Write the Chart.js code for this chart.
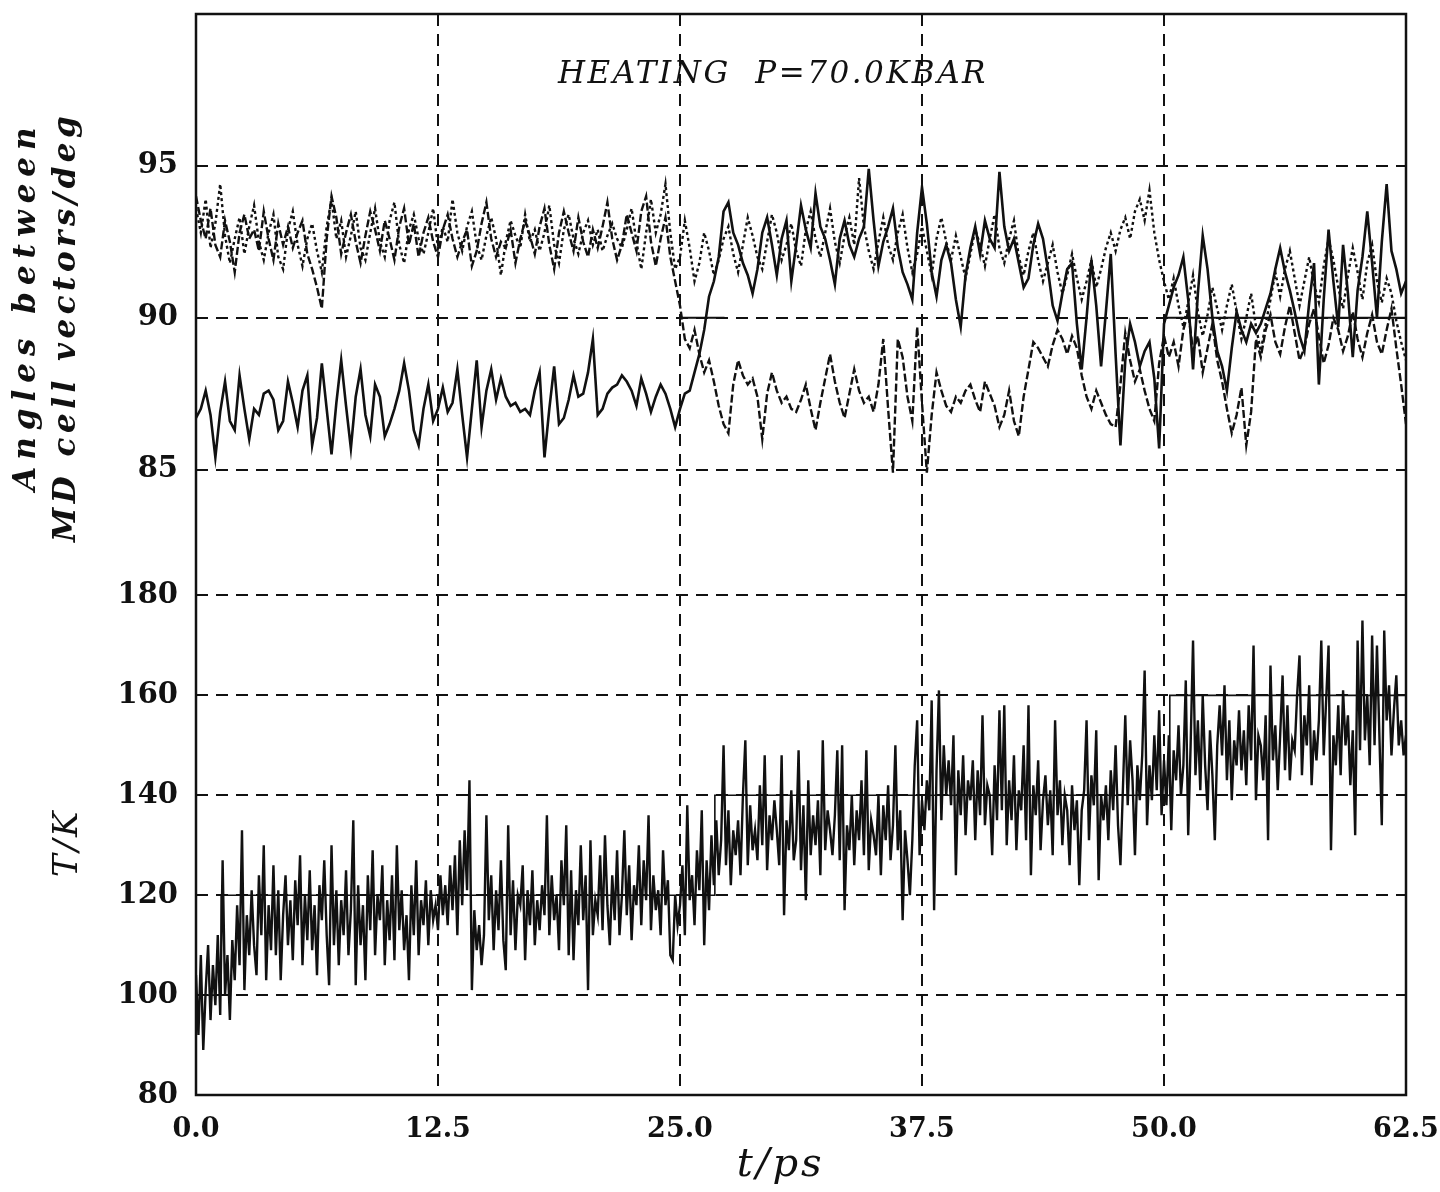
<!DOCTYPE html>
<html>
<head>
<meta charset="utf-8">
<title>Heating P=70.0 kbar</title>
<script src="https://cdn.jsdelivr.net/npm/chart.js@4.4.1/dist/chart.umd.min.js"></script>
<style>
  html, body { margin: 0; padding: 0; background: #fff; }
</style>
</head>
<body>
<canvas id="chart" width="1440" height="1192"></canvas>
<script>
const DT_ANGLE = 0.25;
const DT_TEMP = 0.125;

const timeTicks = [0, 12.5, 25, 37.5, 50, 62.5];
const angleTicks = [85, 90, 95];
const tempTicks = [80, 100, 120, 140, 160, 180];

// cell angle traces, deg, one value every 0.25 ps
const angleSolid = [
  86.7, 87.0, 87.6, 86.8, 85.4, 86.9, 87.9, 86.6,
  86.3, 88.1, 87.0, 86.0, 87.0, 86.8, 87.5, 87.6,
  87.3, 86.3, 86.6, 87.9, 87.2, 86.4, 87.6, 88.1,
  85.8, 86.7, 88.5, 87.0, 85.5, 87.2, 88.6, 87.1,
  85.7, 87.4, 88.3, 86.8, 86.1, 87.8, 87.4, 86.1,
  86.5, 87.0, 87.6, 88.5, 87.6, 86.3, 85.8, 87.0,
  87.8, 86.6, 87.0, 87.7, 86.9, 87.2, 88.3, 86.8,
  85.4, 87.0, 88.6, 86.4, 87.6, 88.3, 87.3, 88.0,
  87.4, 87.1, 87.2, 86.9, 87.0, 86.8, 87.6, 88.2,
  85.4, 87.0, 88.4, 86.5, 86.7, 87.3, 88.1, 87.4,
  87.5, 88.2, 89.3, 86.8, 87.0, 87.5, 87.7, 87.8,
  88.1, 87.9, 87.6, 87.1, 88.0, 87.5, 86.9, 87.4,
  87.8, 87.5, 87.0, 86.4, 87.0, 87.5, 87.6, 88.2,
  88.8, 89.6, 90.7, 91.2, 92.0, 93.5, 93.8, 92.8,
  92.4, 91.8, 91.4, 90.8, 91.6, 92.8, 93.3, 92.4,
  91.4, 92.6, 93.2, 91.2, 92.4, 93.7, 92.9, 92.3,
  94.1, 93.0, 92.6, 91.9, 91.1, 92.6, 93.2, 92.4,
  92.0, 92.6, 93.0, 94.9, 93.2, 91.7, 92.5, 93.0,
  93.6, 92.3, 91.5, 91.1, 90.6, 92.8, 94.3, 93.1,
  91.5, 90.7, 91.9, 92.4, 91.8, 90.6, 89.7, 91.4,
  92.3, 93.0, 92.1, 93.2, 92.6, 92.3, 94.8, 93.0,
  92.2, 92.6, 91.8, 91.0, 91.3, 92.4, 93.1, 92.6,
  91.6, 90.4, 89.9, 90.8, 91.6, 91.8, 89.8, 88.3,
  90.0, 91.9, 90.4, 88.4, 90.2, 92.1, 88.8, 85.8,
  88.6, 89.8, 89.2, 88.4, 88.9, 89.2, 88.0, 85.7,
  89.8, 90.4, 91.0, 91.4, 92.0, 90.6, 88.3, 90.8,
  92.7, 91.6, 90.0, 88.9, 88.4, 87.6, 89.0, 90.2,
  89.6, 89.2, 89.8, 89.5, 89.8, 90.3, 90.8, 91.6,
  92.3, 91.5, 90.9, 90.2, 89.4, 88.9, 90.5, 91.8,
  87.8, 90.6, 92.9, 91.2, 89.7, 92.4, 90.8, 88.7,
  90.9, 92.0, 93.5, 91.8, 90.0, 92.5, 94.4, 92.2,
  91.6, 90.8, 91.2
];
const angleDashed = [
  94.0, 93.2, 92.6, 93.6, 92.4, 92.0, 93.2, 92.5,
  91.5, 92.8, 93.4, 92.6, 92.9, 92.2, 93.5, 92.6,
  91.9, 93.1, 92.4, 93.0, 92.3, 92.8, 93.2, 92.1,
  91.6, 91.0, 90.3, 92.6, 94.0, 93.3, 92.1, 92.8,
  93.4, 92.5, 91.8, 92.7, 93.5, 92.9, 92.2, 93.2,
  92.6, 91.9, 93.0, 93.6, 92.4, 93.1, 92.0, 92.8,
  93.3, 92.5, 92.0, 92.9, 93.4, 92.6, 92.0, 92.5,
  92.9, 91.7, 92.2, 93.1, 93.8, 92.6, 92.0, 92.5,
  92.3, 92.9, 91.8, 92.6, 93.2, 92.7, 92.1, 93.0,
  93.6, 92.4, 91.6, 92.8, 93.5, 92.8, 92.2, 93.3,
  92.5, 92.0, 92.9, 92.3, 93.0, 93.8, 92.6, 91.9,
  92.4, 93.4, 92.8, 92.2, 93.5, 94.0, 92.5, 91.7,
  92.6, 93.3, 92.0, 91.2, 90.4, 89.3, 89.0, 89.6,
  88.8, 88.2, 88.6, 87.9, 87.1, 86.5, 86.2, 87.8,
  88.6, 88.1, 87.8, 88.0, 87.4, 86.0, 87.5, 88.2,
  87.6, 87.2, 87.4, 87.0, 86.9, 87.3, 87.8, 87.0,
  86.3, 87.2, 88.0, 88.8, 87.9, 87.2, 86.7, 87.5,
  88.3, 87.6, 87.2, 87.4, 86.9, 87.8, 89.3, 87.0,
  84.9, 89.3, 88.7, 87.4, 86.6, 89.7, 87.2, 84.9,
  86.8, 88.2, 87.6, 87.1, 86.9, 87.4, 87.2, 87.6,
  87.8, 87.3, 86.9, 87.9, 87.5, 87.1, 86.4, 86.8,
  87.6, 86.6, 86.1, 87.4, 88.3, 89.2, 89.0, 88.7,
  88.4, 89.1, 89.6, 89.3, 88.8, 89.4, 89.0, 88.1,
  87.4, 87.0, 87.6, 87.2, 86.8, 86.5, 86.4, 87.8,
  89.5, 88.6, 87.9, 88.3, 87.6, 87.0, 86.6, 88.5,
  89.4, 88.7, 89.2, 88.4, 89.6, 90.2, 88.9, 89.4,
  88.2, 89.0, 89.8, 88.6, 87.9, 87.0, 86.2, 86.8,
  87.7, 85.8, 86.9, 89.3, 88.7, 89.6, 90.1, 89.2,
  88.8, 89.7, 90.4, 89.5, 88.6, 89.0, 89.8, 90.3,
  89.4, 88.5, 89.1, 90.0, 89.6, 88.9, 89.4, 90.2,
  89.3, 88.7, 89.5, 90.1, 89.2, 88.8, 89.6, 90.3,
  89.0, 87.8, 86.5
];
const angleDotted = [
  93.6, 92.8, 93.9, 92.3, 93.1, 94.4, 92.7, 91.8,
  92.6, 93.3, 92.1, 93.0, 93.7, 92.5, 91.9, 92.8,
  93.4, 92.0, 91.6, 92.9, 93.5, 92.4, 91.7, 92.6,
  93.1, 92.2, 91.5, 93.0, 93.9, 92.6, 93.2, 92.0,
  92.7, 93.5, 92.3, 91.9, 92.8, 93.6, 92.5, 92.0,
  93.2, 93.8, 92.4, 91.8, 92.9, 93.4, 92.6, 92.1,
  92.8, 93.6, 92.3, 93.0, 92.5, 93.9, 92.8, 92.2,
  93.0, 93.5, 92.4, 91.9, 92.7, 93.3, 92.6, 91.4,
  92.5, 93.2, 92.7, 92.3, 93.4, 92.5, 92.9, 92.2,
  92.8, 93.7, 92.4, 91.8, 92.9, 93.4, 92.6, 92.1,
  92.8, 93.2, 92.4, 92.9, 92.2, 92.7, 93.1, 92.6,
  92.3, 92.9, 93.6, 92.5, 91.6, 92.8, 93.9, 92.8,
  93.4, 94.4, 92.8, 91.6, 92.0, 93.2, 92.3, 91.2,
  91.8, 92.8, 92.2, 91.4, 91.9, 92.6, 93.0, 92.1,
  91.5, 92.4, 93.3, 92.7, 92.0, 91.6, 92.5, 93.4,
  92.8, 91.9, 92.4, 93.1, 92.2, 91.7, 92.9, 93.5,
  92.6, 92.0, 92.8, 93.6, 92.5, 91.8, 92.7, 93.3,
  92.4, 94.6, 93.0, 92.2, 91.6, 92.5, 93.3, 92.4,
  91.9, 92.8, 93.4, 92.3, 91.5, 92.1, 93.0, 92.2,
  91.4, 92.6, 93.3, 92.5, 91.9, 92.7, 92.0, 91.3,
  92.1, 92.9, 92.4, 91.7, 92.6, 93.4, 92.3, 91.8,
  92.6, 93.2, 92.0, 91.4, 92.2, 92.8, 91.9, 91.2,
  91.8, 92.4, 91.5, 90.8, 91.4, 92.1, 91.3, 90.6,
  91.2, 91.9, 91.0, 91.6, 92.3, 92.8, 92.2, 92.9,
  93.3, 92.6, 93.5, 93.9, 93.2, 94.2, 92.8, 91.9,
  91.2, 90.6, 91.3, 90.4, 89.7, 90.5, 91.4, 90.2,
  89.4, 90.1, 91.0, 90.3, 89.6, 90.4, 91.1, 90.2,
  89.3, 90.0, 90.8, 89.7, 88.9, 89.8, 90.6, 91.5,
  90.7, 91.6, 92.2, 91.3, 90.4, 91.2, 92.0, 91.1,
  90.5, 91.7, 92.6, 91.9, 91.0, 90.3, 91.4, 92.3,
  91.5, 90.6, 91.8, 92.4, 91.2, 90.5, 91.3, 90.8,
  89.9, 89.2, 88.6
];

// temperature, K, one value every 0.125 ps (one row per ps)
const temperature = [
  104, 92, 108, 89, 101, 110, 95, 106,
  98, 112, 96, 127, 100, 108, 95, 111,
  103, 118, 106, 133, 101, 116, 108, 121,
  110, 104, 124, 112, 130, 103, 118, 109,
  126, 108, 121, 103, 116, 124, 110, 119,
  107, 123, 114, 128, 106, 120, 111, 125,
  109, 118, 104, 122, 115, 127, 112, 102,
  130, 110, 121, 106, 119, 112, 125, 108,
  117, 135, 102, 122, 110, 118, 103, 124,
  113, 129, 108, 120, 115, 126, 106, 119,
  111, 124, 107, 130, 113, 121, 109, 116,
  103, 122, 112, 127, 108, 119, 114, 123,
  110, 121, 115, 118, 113, 124, 116, 122,
  114, 126, 117, 128, 112, 131, 118, 133,
  121, 143, 101, 117, 109, 114, 106, 112,
  136, 115, 124, 109, 121, 113, 127, 111,
  105, 134, 112, 123, 109, 120, 118, 126,
  107, 121, 114, 125, 110, 119, 113, 122,
  116, 136, 112, 124, 115, 120, 109, 127,
  118, 134, 108, 125, 107, 121, 114, 130,
  115, 124, 101, 131, 112, 119, 116, 128,
  113, 132, 118, 110, 124, 115, 129, 112,
  120, 133, 116, 126, 111, 122, 118, 130,
  114, 127, 119, 136, 113, 124, 117, 121,
  112, 129, 118, 123, 108, 107, 120, 114,
  118, 126, 112, 138, 119, 124, 114, 129,
  121, 137, 110, 127, 117, 132, 122, 135,
  124, 131, 150, 126, 137, 122, 133, 128,
  135, 124, 140, 151, 126, 138, 129, 133,
  127, 142, 130, 148, 125, 136, 131, 139,
  133, 126, 148, 116, 135, 129, 141, 127,
  131, 149, 125, 138, 119, 143, 128, 136,
  130, 139, 124, 151, 129, 137, 133, 128,
  136, 149, 127, 150, 117, 134, 129, 140,
  126, 137, 131, 143, 128, 149, 125, 135,
  132, 128, 140, 124, 138, 131, 142, 127,
  134, 150, 129, 137, 115, 133, 127, 120,
  131, 146, 155, 128, 139, 133, 143, 137,
  159, 117, 145, 161, 135, 150, 140, 147,
  138, 152, 124, 145, 136, 148, 132, 143,
  139, 147, 131, 145, 136, 156, 134, 142,
  140, 128, 146, 135, 157, 137, 158, 130,
  143, 135, 148, 129, 141, 137, 150, 131,
  158, 124, 142, 136, 147, 129, 139, 144,
  134, 141, 128, 155, 136, 143, 130, 140,
  137, 126, 142, 133, 139, 122, 137, 141,
  155, 131, 144, 138, 153, 123, 140, 135,
  142, 131, 145, 137, 150, 134, 126, 141,
  156, 138, 151, 143, 128, 146, 139, 148,
  165, 134, 146, 139, 152, 141, 157, 136,
  147, 138, 152, 133, 149, 143, 154, 140,
  146, 163, 132, 150, 171, 144, 155, 141,
  160, 146, 137, 153, 144, 131, 150, 158,
  148, 162, 143, 155, 139, 151, 146, 157,
  145, 153, 142, 158, 147, 170, 139, 152,
  150, 143, 156, 131, 166, 147, 154, 141,
  152, 164, 145, 158, 143, 151, 149, 160,
  168, 144, 156, 150, 162, 142, 153, 147,
  155, 171, 148, 159, 170, 129, 152, 146,
  158, 144, 161, 150, 156, 142, 153, 132,
  171, 149, 175, 151, 160, 146, 172, 150,
  170, 152, 134, 173, 155, 162, 148, 157,
  164, 150, 155, 148, 152
];

// thermostat set points (step changes) and the 90 deg guide segments
const targetTimes = [0, 1.3, 26.8, 50.3, 62.5];
const targetTemps = [100, 120, 140, 160, 160];
const rightAngleSpans = [[25, 27.3], [50, 62.5]];

const INK = '#111';
const SERIF = '"DejaVu Serif", "Liberation Serif", serif';

function toPoints(values, dt) {
  return values.map((v, i) => ({ x: i * dt, y: v }));
}

const targetPoints = targetTimes.map((t, i) => ({ x: t, y: targetTemps[i] }));
const rightAnglePoints = [];
rightAngleSpans.forEach(([a, b], i) => {
  if (i > 0) rightAnglePoints.push({ x: a, y: null });
  rightAnglePoints.push({ x: a, y: 90 }, { x: b, y: 90 });
});

function rotatedText(ctx, text, x, y, font, spacing) {
  ctx.save();
  ctx.translate(x, y);
  ctx.rotate(-Math.PI / 2);
  ctx.font = font;
  ctx.letterSpacing = spacing;
  ctx.fillText(text, 0, 0);
  ctx.restore();
}

const frameAndLabels = {
  id: 'frameAndLabels',
  afterDraw(chart) {
    const { ctx, chartArea: a, scales } = chart;
    ctx.save();
    ctx.strokeStyle = INK;
    ctx.lineWidth = 2.5;
    ctx.strokeRect(a.left, a.top, a.right - a.left, a.bottom - a.top);

    ctx.fillStyle = INK;
    ctx.textAlign = 'center';
    ctx.textBaseline = 'middle';

    ctx.font = 'italic 31px ' + SERIF;
    ctx.letterSpacing = '2.5px';
    ctx.fillText('HEATING  P=70.0KBAR', scales.x.getPixelForValue(29.8), scales.yA.getPixelForValue(98.0));

    ctx.font = 'italic 40px ' + SERIF;
    ctx.letterSpacing = '3px';
    ctx.fillText('t/ps', scales.x.getPixelForValue(30.2), 1166);

    rotatedText(ctx, 'Angles between', 27, scales.yA.getPixelForValue(90.4),
      'bold italic 31px ' + SERIF, '7px');
    rotatedText(ctx, 'MD cell vectors/deg', 67, scales.yA.getPixelForValue(89.7),
      'bold italic 31px ' + SERIF, '4.5px');
    rotatedText(ctx, 'T/K', 68, scales.yT.getPixelForValue(130.5),
      'italic 34px ' + SERIF, '3px');

    ctx.restore();
  }
};

const gridStyle = { color: INK, lineWidth: 2, drawTicks: false, borderDash: [12, 8] };
const borderStyle = { display: false, dash: [12, 8] };
const yTickFont = { family: SERIF, size: 29, weight: 'bold' };
const xTickFont = { family: SERIF, size: 27, weight: 'bold' };

// keep the plot frame where the reference has it
function fixYAxis(s) {
  s.width = 196;
  s.paddingTop = 0;
  s.paddingBottom = 0;
}

new Chart(document.getElementById('chart'), {
  type: 'line',
  data: {
    datasets: [
      {
        label: 'T',
        data: toPoints(temperature, DT_TEMP),
        yAxisID: 'yT',
        borderColor: INK,
        borderWidth: 2.4,
        pointRadius: 0
      },
      {
        label: 'T set',
        data: targetPoints,
        yAxisID: 'yT',
        stepped: true,
        borderColor: INK,
        borderWidth: 1.6,
        pointRadius: 0
      },
      {
        label: 'angle 1',
        data: toPoints(angleSolid, DT_ANGLE),
        yAxisID: 'yA',
        borderColor: INK,
        borderWidth: 2.6,
        pointRadius: 0
      },
      {
        label: 'angle 2',
        data: toPoints(angleDashed, DT_ANGLE),
        yAxisID: 'yA',
        borderColor: INK,
        borderWidth: 2.4,
        borderDash: [8, 3],
        pointRadius: 0
      },
      {
        label: 'angle 3',
        data: toPoints(angleDotted, DT_ANGLE),
        yAxisID: 'yA',
        borderColor: INK,
        borderWidth: 2.4,
        borderDash: [3, 3],
        pointRadius: 0
      },
      {
        label: '90 deg',
        data: rightAnglePoints,
        yAxisID: 'yA',
        spanGaps: false,
        borderColor: INK,
        borderWidth: 1.8,
        pointRadius: 0
      }
    ]
  },
  options: {
    responsive: false,
    animation: false,
    events: [],
    layout: { padding: { top: 14, right: 34, left: 0, bottom: 0 } },
    plugins: {
      legend: { display: false },
      tooltip: { enabled: false }
    },
    scales: {
      x: {
        type: 'linear',
        min: 0,
        max: 62.5,
        grid: gridStyle,
        border: borderStyle,
        afterBuildTicks: (s) => { s.ticks = timeTicks.map((v) => ({ value: v })); },
        afterFit: (s) => {
          s.height = 97;
          s.paddingLeft = 0;
          s.paddingRight = 0;
        },
        ticks: {
          color: INK,
          font: xTickFont,
          padding: 19,
          maxRotation: 0,
          callback: (v) => Number(v).toFixed(1)
        }
      },
      yT: {
        type: 'linear',
        position: 'left',
        stack: 'panels',
        stackWeight: 552,
        offset: false,
        min: 80,
        max: 190,
        grid: gridStyle,
        border: borderStyle,
        afterBuildTicks: (s) => { s.ticks = tempTicks.map((v) => ({ value: v })); },
        afterFit: fixYAxis,
        ticks: { color: INK, font: yTickFont, padding: 18 }
      },
      yA: {
        type: 'linear',
        position: 'left',
        stack: 'panels',
        stackWeight: 534,
        offset: false,
        min: 82.5,
        max: 100,
        grid: gridStyle,
        border: borderStyle,
        afterBuildTicks: (s) => { s.ticks = angleTicks.map((v) => ({ value: v })); },
        afterFit: fixYAxis,
        ticks: { color: INK, font: yTickFont, padding: 18 }
      }
    }
  },
  plugins: [frameAndLabels]
});
</script>
</body>
</html>
